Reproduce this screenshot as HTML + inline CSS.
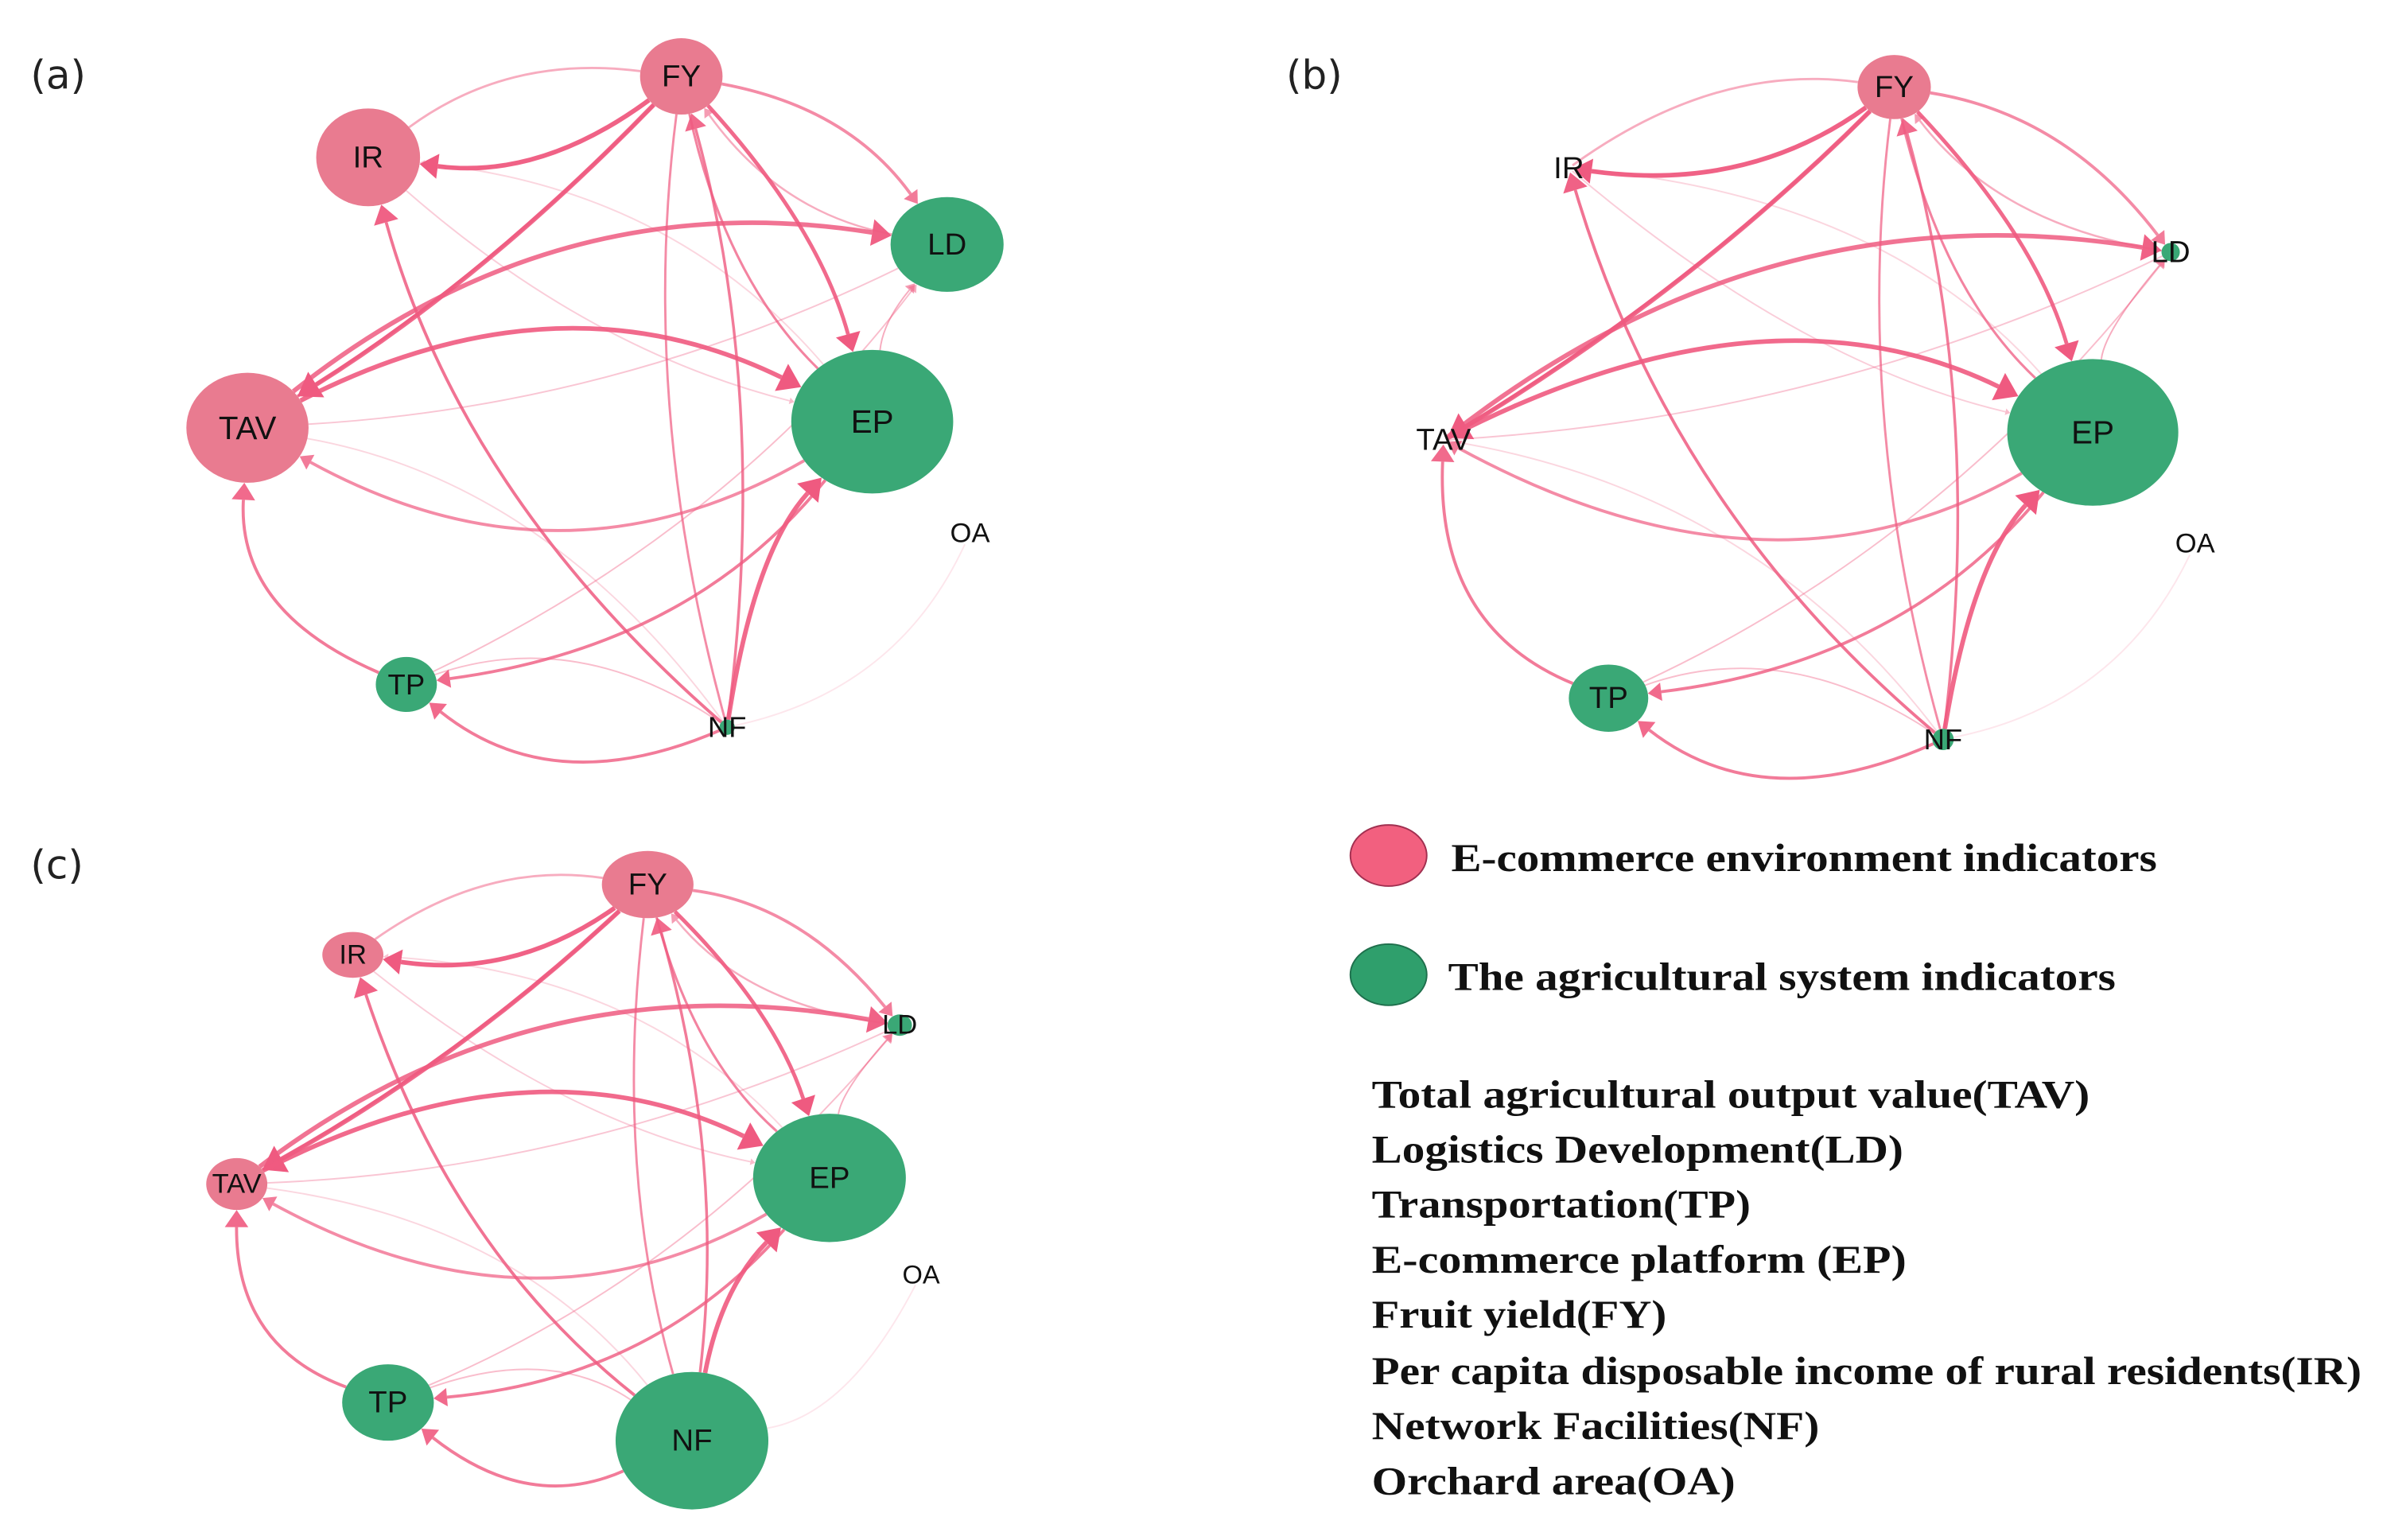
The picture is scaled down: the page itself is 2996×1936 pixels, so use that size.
<!DOCTYPE html>
<html><head><meta charset="utf-8">
<style>
html,body{margin:0;padding:0;background:#fff;}
svg{display:block;}
.nl{font-family:"Liberation Sans",sans-serif;fill:#111;text-anchor:middle;dominant-baseline:central;}
.pl{font-family:"DejaVu Sans","Liberation Sans",sans-serif;fill:#222;font-size:26px;}
.lg{font-family:"Liberation Serif",serif;font-weight:bold;fill:#111;font-size:26px;}
</style></head>
<body>
<svg id="s" width="2996" height="1936" viewBox="0 0 1560 1008" preserveAspectRatio="none" xmlns="http://www.w3.org/2000/svg">
<g id="edges"></g>
<g id="nodes"></g>
<text class="pl" x="20" y="58">(a)</text>
<text class="pl" x="842" y="58">(b)</text>
<text class="pl" x="20" y="575">(c)</text>
<ellipse cx="909" cy="560" rx="25" ry="20" fill="#f2607f" stroke="#a03050" stroke-width="1"/>
<text class="lg" x="950" y="570" textLength="462" lengthAdjust="spacingAndGlyphs">E-commerce environment indicators</text>
<ellipse cx="909" cy="638" rx="25" ry="20" fill="#2f9f6c" stroke="#1f6f4c" stroke-width="1"/>
<text class="lg" x="948" y="648" textLength="437" lengthAdjust="spacingAndGlyphs">The agricultural system indicators</text>
<text class="lg" x="898" y="725" textLength="470" lengthAdjust="spacingAndGlyphs">Total agricultural output value(TAV)</text>
<text class="lg" x="898" y="761" textLength="348" lengthAdjust="spacingAndGlyphs">Logistics Development(LD)</text>
<text class="lg" x="898" y="797" textLength="248" lengthAdjust="spacingAndGlyphs">Transportation(TP)</text>
<text class="lg" x="898" y="833" textLength="350" lengthAdjust="spacingAndGlyphs">E-commerce platform (EP)</text>
<text class="lg" x="898" y="869" textLength="193" lengthAdjust="spacingAndGlyphs">Fruit yield(FY)</text>
<text class="lg" x="898" y="906" textLength="648" lengthAdjust="spacingAndGlyphs">Per capita disposable income of rural residents(IR)</text>
<text class="lg" x="898" y="942" textLength="293" lengthAdjust="spacingAndGlyphs">Network Facilities(NF)</text>
<text class="lg" x="898" y="978" textLength="238" lengthAdjust="spacingAndGlyphs">Orchard area(OA)</text>
</svg>
<script>
var NS="http://www.w3.org/2000/svg";
var P="#e97b90",G="#3aa876",E="#ef5a80";
var panels=[
 {FY:[446,50,27,25,P,20],IR:[241,103,34,32,P,20],LD:[620,160,37,31,G,20],TAV:[162,280,40,36,P,21],EP:[571,276,53,47,G,21],OA:[635,349,0,0,null,18],TP:[266,448,20,18,G,19],NF:[476,476,5,5,G,19]},
 {FY:[1240,57,24,21,P,20],IR:[1027,110,3,3,null,20],LD:[1421,165,6,6,G,20],TAV:[945,288,3,3,null,20],EP:[1370,283,56,48,G,21],OA:[1437,356,0,0,null,18],TP:[1053,457,26,22,G,20],NF:[1272,484,7,7,G,19]},
 {FY:[424,579,30,22,P,20],IR:[231,625,20,15,P,18],LD:[589,671,8,7,G,18],TAV:[155,775,20,17,P,18],EP:[543,771,50,42,G,20],OA:[603,834,0,0,null,17],TP:[254,918,30,25,G,20],NF:[453,943,50,45,G,20]}
];
var EL=[
['FY','IR',3,0.95,0.2,15],['IR','FY',1.5,0.5,0.2,0],
['FY','LD',2,0.7,0.2,10],['LD','FY',1.3,0.5,0.2,7],
['FY','EP',2.5,0.9,0.12,15],['EP','FY',1.6,0.75,0.15,0],
['FY','TAV',3,0.9,0.06,18],['TAV','FY',2,0.8,-0.06,0],
['TAV','LD',3,0.85,0.22,16],['TAV','EP',3,0.9,0.25,18],
['EP','TAV',2,0.7,0.28,10],['EP','IR',1,0.25,-0.2,4],
['EP','LD',1,0.5,0.15,7],['EP','TP',2,0.8,0.2,11],
['NF','IR',2,0.85,0.15,15],['NF','FY',1.8,0.8,-0.1,13],['NF','FY',1.5,0.7,0.1,0],
['NF','EP',3,0.9,0.15,17],['NF','TP',2,0.8,0.3,12],['TP','NF',1,0.4,0.25,0],
['TP','TAV',2,0.8,0.35,14],['NF','TAV',1,0.25,-0.2,0],['TP','LD',1,0.4,-0.12,6],
['OA','NF',1,0.15,0.25,0],['IR','EP',1,0.3,-0.12,4],['LD','TAV',1,0.35,0.1,0]
];
var eg=document.getElementById('edges'),ng=document.getElementById('nodes');
function el(t,a,p){var e=document.createElementNS(NS,t);for(var k in a)e.setAttribute(k,a[k]);p.appendChild(e);return e;}
function rad(n,ux,uy){var rx=n[2],ry=n[3];if(rx==0)return 8;var t=Math.atan2(uy,ux);return 1/Math.sqrt(Math.pow(Math.cos(t)/rx,2)+Math.pow(Math.sin(t)/ry,2));}
panels.forEach(function(N){
 EL.forEach(function(e){
  var a=N[e[0]],b=N[e[1]];
  var dx=b[0]-a[0],dy=b[1]-a[1];
  var cx=(a[0]+b[0])/2+dy*e[4],cy=(a[1]+b[1])/2-dx*e[4];
  var ux=cx-a[0],uy=cy-a[1],ul=Math.hypot(ux,uy);ux/=ul;uy/=ul;
  var vx=b[0]-cx,vy=b[1]-cy,vl=Math.hypot(vx,vy);vx/=vl;vy/=vl;
  var ra=rad(a,ux,uy),rb=rad(b,vx,vy);
  var sx=a[0]+ux*ra,sy=a[1]+uy*ra,tx=b[0]-vx*rb,ty=b[1]-vy*rb;
  var h=e[5],ex=tx-vx*h*0.8,ey=ty-vy*h*0.8;
  el('path',{d:'M'+sx+' '+sy+' Q'+cx+' '+cy+' '+(h?ex:tx)+' '+(h?ey:ty),fill:'none',stroke:E,'stroke-width':e[2],'stroke-opacity':e[3]},eg);
  if(h){var w=h*0.55;
   el('polygon',{points:tx+','+ty+' '+(ex-vy*w)+','+(ey+vx*w)+' '+(ex+vy*w)+','+(ey-vx*w),fill:E,'fill-opacity':Math.min(1,e[3]+0.1)},eg);}
 });
 for(var k in N){var n=N[k];
  if(n[4]&&n[2]>0)el('ellipse',{cx:n[0],cy:n[1],rx:n[2],ry:n[3],fill:n[4]},ng);
  var t=el('text',{x:n[0],y:n[1],'class':'nl','font-size':n[5]},ng);t.textContent=k;}
});
</script>
</body></html>
